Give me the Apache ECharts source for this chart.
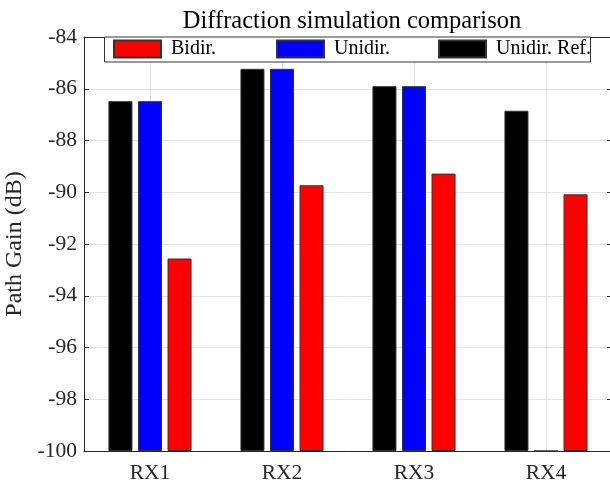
<!DOCTYPE html>
<html>
<head>
<meta charset="utf-8">
<script src="https://cdn.jsdelivr.net/npm/echarts@6/dist/echarts.min.js"></script>
<style>
  html, body { margin: 0; padding: 0; background: #fff; }
  #chart { width: 610px; height: 484px; }
</style>
</head>
<body>
<div id="chart"></div>
<script>
// receivers on the x axis
var categories = ['RX1', 'RX2', 'RX3', 'RX4'];
// path gain in dB
var unidirRef = [-86.48, -85.23, -85.90, -86.85];
var unidir    = [-86.48, -85.23, -85.90, -100.0];
var bidir     = [-92.56, -89.73, -89.28, -90.08];
var legendOrder = ['Bidir.', 'Unidir.', 'Unidir. Ref.'];

var font = 'Liberation Serif';
var textColor = '#262626';
var gridColor = '#e3e3e3';

var chart = echarts.init(document.getElementById('chart'), null, { renderer: 'canvas' });

function barSeries(name, data, color) {
  return {
    name: name,
    type: 'bar',
    data: data,
    barWidth: '18.2%',
    barGap: '23%',
    itemStyle: { color: color, borderColor: '#333', borderWidth: 1 },
    emphasis: { disabled: true }
  };
}

// one legend per entry so the entries sit evenly spaced like matlab does
var legendLeft = [113, 276, 438];
var legends = legendOrder.map(function (name, i) {
  return {
    data: [name],
    left: legendLeft[i],
    top: 39,
    padding: 0,
    itemWidth: 47,
    itemHeight: 17,
    icon: 'rect',
    z: 5,
    formatter: function (n) { return ' ' + n; },
    textStyle: { fontFamily: font, fontSize: 20, color: '#000' }
  };
});

// hidden axis with 9 slots: odd slots are the category centres, for the vertical grid
var centreSlots = ['', '', '', '', '', '', '', '', ''];

var option = {
  animation: false,
  textStyle: { fontFamily: font, color: textColor },
  title: {
    text: 'Diffraction simulation comparison',
    left: 347,
    top: 4,
    textAlign: 'center',
    textStyle: { fontFamily: font, fontSize: 24.5, fontWeight: 'normal', color: '#000' }
  },
  legend: legends,
  graphic: [{
    type: 'rect',
    z: 4,
    shape: { x: 104.5, y: 37, width: 486, height: 25 },
    style: { fill: '#fff', stroke: '#333', lineWidth: 1 }
  }],
  grid: { left: 84, right: -2, top: 37, bottom: 33, containLabel: false, outerBoundsMode: 'none' },
  xAxis: [{
    type: 'category',
    data: categories,
    axisLine: { lineStyle: { color: textColor } },
    axisTick: { show: false },
    axisLabel: { fontFamily: font, fontSize: 21.5, color: textColor, margin: 11 },
    splitLine: { show: false }
  }, {
    type: 'category',
    data: categories,
    position: 'top',
    axisLine: { lineStyle: { color: textColor } },
    axisTick: { show: false },
    axisLabel: { show: false }
  }, {
    type: 'category',
    data: centreSlots,
    boundaryGap: false,
    axisLine: { show: false },
    axisTick: { show: false },
    axisLabel: { show: false },
    splitLine: {
      show: true,
      interval: function (i) { return i % 2 === 1; },
      lineStyle: { color: gridColor }
    }
  }],
  yAxis: [{
    type: 'value',
    min: -100,
    max: -84,
    interval: 2,
    startValue: -100,
    name: 'Path Gain (dB)',
    nameLocation: 'middle',
    nameGap: 47,
    nameTextStyle: { fontFamily: font, fontSize: 24, color: textColor },
    axisLine: { show: true, lineStyle: { color: textColor } },
    axisTick: { show: true, inside: true, length: 5, lineStyle: { color: textColor } },
    axisLabel: { fontFamily: font, fontSize: 21.5, color: textColor, margin: 7 },
    splitLine: { show: true, lineStyle: { color: gridColor } }
  }, {
    type: 'value',
    min: -100,
    max: -84,
    interval: 2,
    position: 'right',
    axisLine: { show: true, lineStyle: { color: textColor } },
    axisTick: { show: true, inside: true, length: 5, lineStyle: { color: textColor } },
    axisLabel: { show: false },
    splitLine: { show: false }
  }],
  series: [
    barSeries('Unidir. Ref.', unidirRef, '#000000'),
    barSeries('Unidir.', unidir, '#0000ff'),
    barSeries('Bidir.', bidir, '#ff0000')
  ]
};

chart.setOption(option);
</script>
</body>
</html>
